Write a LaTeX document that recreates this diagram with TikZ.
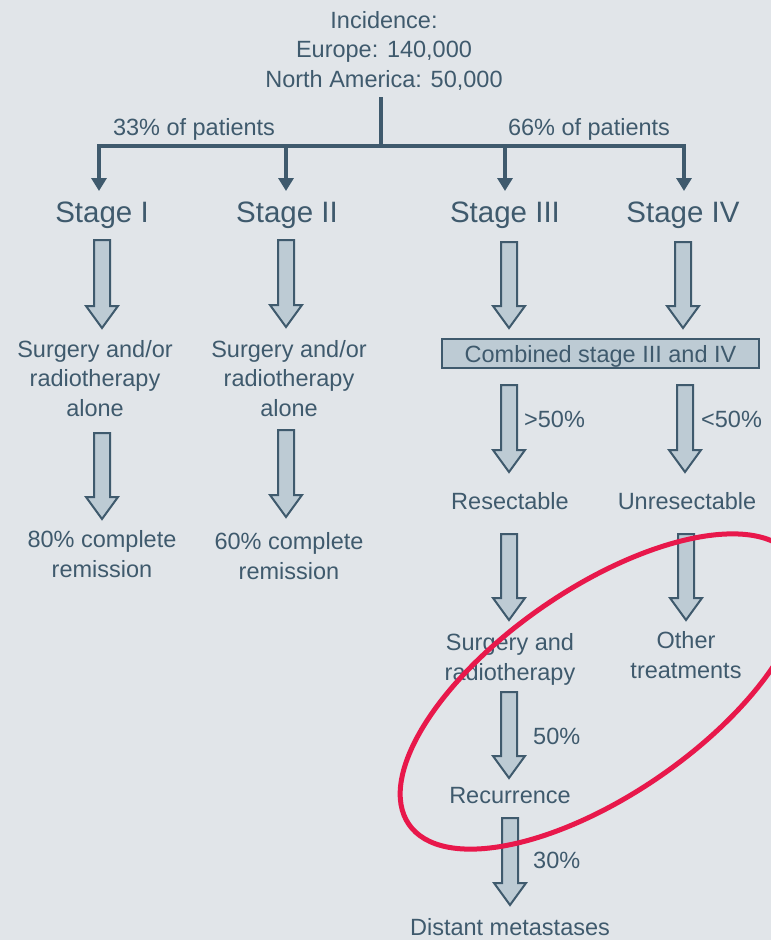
\documentclass[tikz,border=0pt]{standalone}
\usepackage{fontspec}
\setmainfont{Liberation Sans}
\usetikzlibrary{arrows.meta,calc}
\definecolor{bg}{HTML}{E1E5E9}
\definecolor{ink}{HTML}{3F5A6D}
\definecolor{afill}{HTML}{BDCBD4}
\definecolor{ring}{HTML}{E8184B}
\newcommand\barrow[2]{\path[barrowstyle] let \p1=(#1), \p2=(#2) in (\x1-8pt,\y1) -- (\x1+8pt,\y1) -- (\x1+8pt,\y2+22pt) -- (\x1+16pt,\y2+22pt) -- (\x1,\y2) -- (\x1-16pt,\y2+22pt) -- (\x1-8pt,\y2+22pt) -- cycle;}
\begin{document}
\begin{tikzpicture}[x=1pt,y=-1pt,
  txt/.style={text=ink, font=\fontsize{23.5}{29.5}\selectfont, align=center, inner sep=0pt, anchor=base},
  stg/.style={text=ink, font=\fontsize{29.5}{34}\selectfont, inner sep=0pt, anchor=base},
  pct/.style={text=ink, font=\fontsize{23.5}{29.5}\selectfont, inner sep=0pt, anchor=base west},
  link/.style={draw=ink, line width=4pt},
  drop/.style={link, -{Triangle[width=15pt,length=13pt]}},
  barrowstyle/.style={draw=ink, fill=afill, line width=2pt, line join=miter},
  combo/.style={draw=ink, fill=afill, line width=1.5pt, minimum width=317pt, minimum height=29pt, text=ink, font=\fontsize{23.5}{29.5}\selectfont, text height=17pt, text depth=0pt, inner sep=0pt},
  ringstyle/.style={draw=ring, line width=5pt}]
\useasboundingbox (0,0) rectangle (771,940);
\fill[bg] (0,0) rectangle (771,940);
\clip (0,0) rectangle (771,940);

% top text (anchor base = baseline of last line)
\node[txt] (inc) at (384,87) {Incidence:\\Europe: 140,000\\North America: 50,000};
\node[txt] (p33) at (194,135) {33\% of patients};
\node[txt] (p66) at (589,135) {66\% of patients};

% tree connectors
\coordinate (hubtop) at (381,97);
\coordinate (hub) at (381,146);
\coordinate (hl) at (99,146);
\coordinate (hr) at (684,146);
\coordinate (t1) at (99,191);
\coordinate (t2) at (286,191);
\coordinate (t3) at (505,191);
\coordinate (t4) at (684,191);
\draw[link] (hubtop) -- (hub);
\draw[link, line cap=rect] (hl) -- (hr);
\draw[drop] (hl) -- (t1);
\draw[drop] (286,146) -- (t2);
\draw[drop] (505,146) -- (t3);
\draw[drop] (hr) -- (t4);

% stages
\node[stg] (s1) at (102,222) {Stage I};
\node[stg] (s2) at (287,222) {Stage II};
\node[stg] (s3) at (505,222) {Stage III};
\node[stg] (s4) at (683,222) {Stage IV};

% left branches
\node[txt] (surg1) at (95,416) {Surgery and/or\\radiotherapy\\alone};
\node[txt] (surg2) at (289,416) {Surgery and/or\\radiotherapy\\alone};
\node[txt] (rem1) at (102,577) {80\% complete\\remission};
\node[txt] (rem2) at (289,579) {60\% complete\\remission};

% right branches
\node[combo] (comb) at (600.5,353.5) {Combined stage III and IV};
\node[txt] (res) at (510,509) {Resectable};
\node[txt] (unres) at (687,509) {Unresectable};
\node[txt] (sr) at (510,680) {Surgery and\\radiotherapy};
\node[txt] (oth) at (686,678) {Other\\treatments};
\node[txt] (rec) at (510,803) {Recurrence};
\node[txt] (dist) at (510,935) {Distant metastases};

\node[pct] (g50) at (524,427) {>50\%};
\node[pct] (l50) at (701,427) {<50\%};
\node[pct] (r50) at (533,744) {50\%};
\node[pct] (r30) at (533,868) {30\%};

% block arrow end points
\coordinate (a1s) at (102,240); \coordinate (a1e) at (102,328);
\coordinate (a2s) at (286,240); \coordinate (a2e) at (286,327);
\coordinate (a3s) at (509,242); \coordinate (a3e) at (509,328);
\coordinate (a4s) at (683,242); \coordinate (a4e) at (683,328);
\coordinate (a5s) at (102,433); \coordinate (a5e) at (102,519);
\coordinate (a6s) at (286,430); \coordinate (a6e) at (286,517);
\coordinate (a7s) at (509,385); \coordinate (a7e) at (509,472);
\coordinate (a8s) at (685,385); \coordinate (a8e) at (685,472);
\coordinate (a9s) at (509,534); \coordinate (a9e) at (509,620);
\coordinate (a10s) at (686,534); \coordinate (a10e) at (686,620);
\coordinate (a11s) at (509,692); \coordinate (a11e) at (509,778);
\coordinate (a12s) at (510,818); \coordinate (a12e) at (510,905);
\barrow{a1s}{a1e}
\barrow{a2s}{a2e}
\barrow{a3s}{a3e}
\barrow{a4s}{a4e}
\barrow{a5s}{a5e}
\barrow{a6s}{a6e}
\barrow{a7s}{a7e}
\barrow{a8s}{a8e}
\barrow{a9s}{a9e}
\barrow{a10s}{a10e}
\barrow{a11s}{a11e}
\barrow{a12s}{a12e}

% highlight ring
\draw[ringstyle, shift={(601.5,691.5)}, rotate=34.6] (0,0) ellipse [x radius=234pt, y radius=103pt];
\end{tikzpicture}
\end{document}
